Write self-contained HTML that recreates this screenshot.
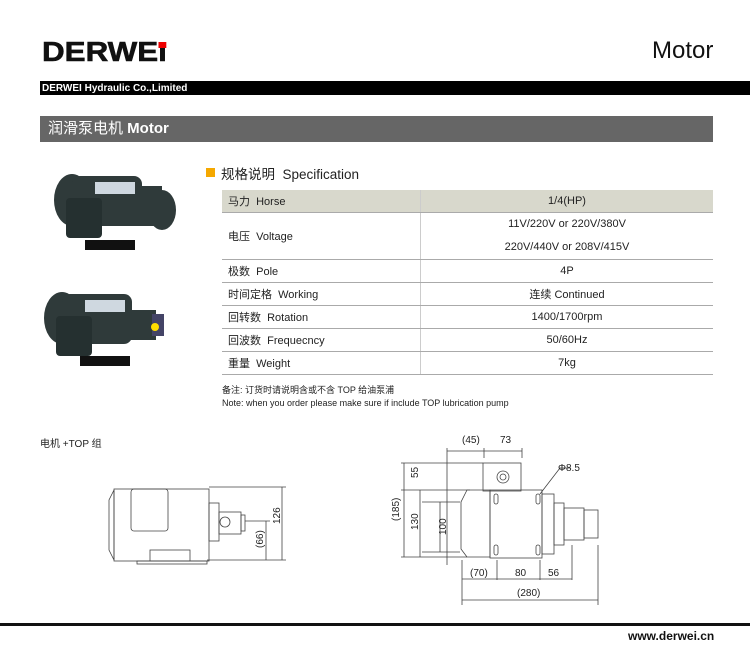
<!DOCTYPE html>
<html><head><meta charset="utf-8"><style>
body{margin:0;width:750px;height:647px;background:#fff;position:relative;overflow:hidden;font-family:"Liberation Sans","Noto Sans CJK SC",sans-serif;}
.a{position:absolute;white-space:nowrap}
table{position:absolute;left:222px;top:190px;width:491px;border-collapse:collapse;font-size:11px;color:#222}
td{border-bottom:1px solid #aaa;height:22px;padding:0 0 0 6px;vertical-align:middle}
td+td{border-left:1px solid #ccc;text-align:center;padding:0}
</style></head><body>
<div class="a" style="left:42px;top:36px;font:900 28px 'Liberation Sans',sans-serif;color:#111;transform:scaleX(1.12);transform-origin:left;-webkit-text-stroke:0.6px #111">DERWE<span style="position:relative">ı<span style="position:absolute;left:0;top:6px;width:7px;height:6px;background:#e00"></span></span></div>
<div class="a" style="left:652px;top:37px;font-size:24px;color:#111">Motor</div>
<div class="a" style="left:40px;top:81px;width:710px;height:14px;background:#000;color:#fff;font-size:10px;font-weight:bold;line-height:15px;padding-left:2px">DERWEI Hydraulic Co.,Limited</div>
<div class="a" style="left:40px;top:116px;width:673px;height:26px;background:#666;color:#fff;font-size:15px;line-height:26px;padding-left:8px;box-sizing:border-box">润滑泵电机 <b>Motor</b></div>
<div class="a" style="left:206px;top:168px;width:9px;height:9px;background:#f5a800"></div>
<div class="a" style="left:221px;top:163px;font-size:13.5px;color:#222">规格说明 &nbsp;Specification</div>
<table>
<tr style="background:#d8d8cc"><td style="width:192px">马力 &nbsp;Horse</td><td>1/4(HP)</td></tr>
<tr><td style="height:45px">电压 &nbsp;Voltage</td><td style="line-height:23px">11V/220V or 220V/380V<br>220V/440V or 208V/415V</td></tr>
<tr><td>极数 &nbsp;Pole</td><td>4P</td></tr>
<tr><td>时间定格 &nbsp;Working</td><td>连续 Continued</td></tr>
<tr><td>回转数 &nbsp;Rotation</td><td>1400/1700rpm</td></tr>
<tr><td>回波数 &nbsp;Frequecncy</td><td>50/60Hz</td></tr>
<tr><td>重量 &nbsp;Weight</td><td>7kg</td></tr>
</table>
<div class="a" style="left:222px;top:383px;font-size:9px;color:#222">备注: 订货时请说明含或不含 TOP 给油泵浦</div>
<div class="a" style="left:222px;top:398px;font-size:9px;color:#222">Note: when you order please make sure if include TOP lubrication pump</div>
<div class="a" style="left:40px;top:435px;font-size:10px;color:#222">电机 +TOP 组</div>
<svg class="a" style="left:0;top:0" width="750" height="647">
<g fill="#2f3a3a">
<ellipse cx="72" cy="200" rx="18" ry="26"/><rect x="72" y="176" width="70" height="50" rx="8"/><ellipse cx="162" cy="210" rx="14" ry="20"/><rect x="130" y="186" width="32" height="40"/>
<rect x="66" y="198" width="36" height="40" rx="4" fill="#253030"/><rect x="85" y="240" width="50" height="10" fill="#111"/>
<rect x="95" y="182" width="40" height="12" fill="#cfd8e0"/>
<ellipse cx="62" cy="318" rx="18" ry="26"/><rect x="62" y="294" width="70" height="50" rx="8"/><rect x="118" y="310" width="38" height="30"/><rect x="152" y="314" width="12" height="22" fill="#446"/>
<rect x="56" y="316" width="36" height="40" rx="4" fill="#253030"/><rect x="80" y="356" width="50" height="10" fill="#111"/>
<rect x="85" y="300" width="40" height="12" fill="#cfd8e0"/><circle cx="155" cy="327" r="4" fill="#fd0"/>
</g>
<g fill="none" stroke="#444" stroke-width="0.8">
<path d="M114 490 L109 500 L109 550 L114 560 Z"/><rect x="114" y="489" width="95" height="72"/>
<rect x="131" y="489" width="37" height="42" rx="3"/><rect x="209" y="503" width="10" height="38"/>
<rect x="219" y="512" width="22" height="22"/><circle cx="225" cy="522" r="5"/><rect x="241" y="515" width="4" height="16"/>
<rect x="150" y="550" width="40" height="11"/><rect x="137" y="561" width="70" height="3"/>
<path d="M209 487 H286 M207 560 H286 M245 521 H270 M282 487 V560 M266 521 V560"/>
</g>
<text x="280" y="524" font-size="10" transform="rotate(-90 280 524)" fill="#222">126</text>
<text x="263" y="548" font-size="10" transform="rotate(-90 263 548)" fill="#222">(66)</text>
<g fill="none" stroke="#444" stroke-width="0.8">
<rect x="483" y="463" width="38" height="28"/><circle cx="503" cy="477" r="6"/><circle cx="503" cy="477" r="3"/>
<path d="M467 490 L461 502 L461 549 L467 557 H490 V490 Z"/>
<rect x="490" y="490" width="52" height="68"/><rect x="542" y="494" width="12" height="60"/><rect x="554" y="503" width="10" height="42"/>
<rect x="564" y="508" width="20" height="32"/><rect x="584" y="510" width="14" height="28"/>
<rect x="494" y="494" width="4" height="10" rx="2"/><rect x="536" y="494" width="4" height="10" rx="2"/>
<rect x="494" y="545" width="4" height="10" rx="2"/><rect x="536" y="545" width="4" height="10" rx="2"/>
<path d="M447 448 V565 M484 448 V458 M522 448 V458 M447 451 H522 M401 463 H483 M401 490 H470 M401 557 H467 M422 502 H460 M422 552 H460 M404 463 V557 M420 490 V557 M440 502 V552 M462 560 V605 M497 560 V580 M540 560 V580 M572 545 V580 M598 545 V605 M462 579 H572 M462 600 H598 M540 494 L560 468 H570"/>
</g>
<g font-size="10" fill="#222">
<text x="462" y="443">(45)</text><text x="500" y="443">73</text><text x="558" y="471">Φ8.5</text>
<text x="470" y="576">(70)</text><text x="515" y="576">80</text><text x="548" y="576">56</text><text x="517" y="596">(280)</text>
<text x="418" y="478" transform="rotate(-90 418 478)">55</text>
<text x="399" y="521" transform="rotate(-90 399 521)">(185)</text>
<text x="418" y="530" transform="rotate(-90 418 530)">130</text>
<text x="446" y="535" transform="rotate(-90 446 535)">100</text>
</g>
<rect x="0" y="623" width="750" height="3" fill="#111"/>
<text x="628" y="640" font-size="12" font-weight="bold" fill="#111">www.derwei.cn</text>
</svg>
</body></html>
